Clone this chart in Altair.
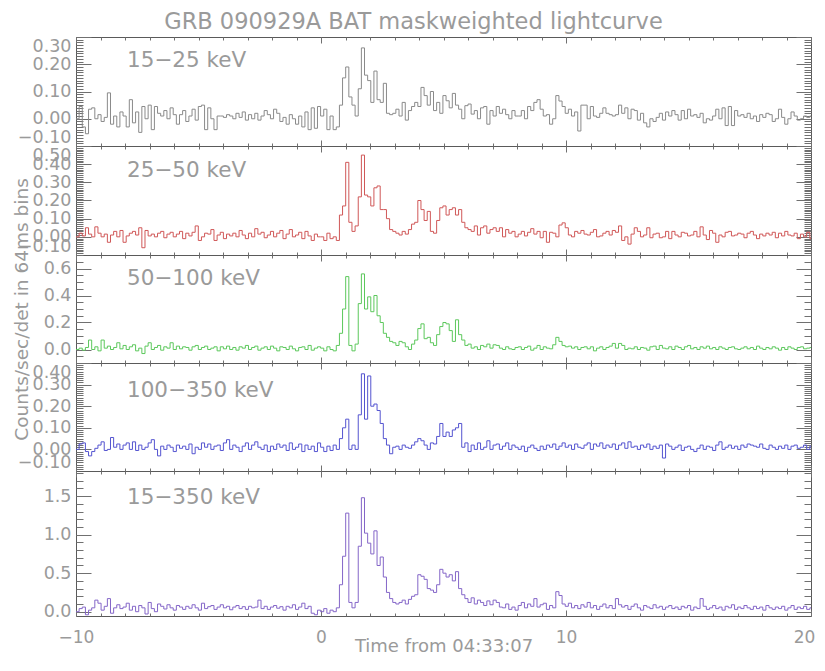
import altair as alt
import numpy as np
import pandas as pd

# ---- time binning of the light curves (first bin start, bin width in s) ----
T0 = -10.0
BIN = 0.128

# ---- count rates per bin (counts/sec/det) ----
BAND_15_25 = [
    0.0, 0.045, -0.03, -0.055, 0.035, 0.04, 0.0, 0.015, -0.01, 0.005,
    0.095, -0.02, 0.01, -0.03, 0.025, 0.01, -0.03, 0.07, -0.015, 0.025,
    -0.05, 0.045, 0.0, 0.05, -0.04, 0.045, 0.02, 0.01, 0.03, 0.0,
    0.04, 0.015, -0.02, 0.015, 0.03, -0.01, 0.01, 0.035, -0.005, 0.045,
    0.05, -0.04, 0.04, 0.0, -0.04, 0.01, 0.01, 0.005, 0.015, 0.01,
    0.0, 0.02, 0.005, 0.025, -0.005, 0.015, 0.0, 0.02, -0.005, 0.01,
    0.03, 0.015, 0.0, 0.035, 0.02, -0.01, 0.005, -0.02, 0.015, 0.0,
    -0.02, 0.01, -0.03, 0.025, -0.04, 0.04, -0.035, 0.045,
    0.01, 0.035, -0.04, 0.01, -0.04, -0.03, 0.05, 0.15, 0.19, 0.08,
    0.05, 0.01, 0.11, 0.26, 0.16, 0.14, 0.06, 0.175, 0.07, 0.06,
    0.13, 0.02, 0.015, 0.02, 0.035, 0.01, 0.06, -0.005, 0.03, 0.045,
    0.06, 0.045, 0.115, 0.085, 0.05, 0.10, 0.03, 0.06, 0.02, 0.085,
    0.066, 0.04, 0.093, 0.05, 0.035, 0.0, 0.048, 0.054, 0.017, 0.03,
    0.0, 0.04, 0.045, -0.02, 0.03, 0.01, 0.045, 0.02, 0.035, 0.015,
    0.0, 0.03, 0.01,
    0.01, 0.03, 0.0, 0.045, 0.03, 0.06, 0.07, 0.035, 0.01, 0.015,
    -0.02, 0.0, 0.085, 0.065, 0.045, 0.02, 0.035, 0.01, 0.025, -0.045,
    0.05, 0.05, 0.0, 0.045, 0.01, 0.005, 0.02, 0.04, 0.02, 0.015,
    0.01, 0.015, 0.05, 0.02, 0.04, 0.0, 0.035, 0.03, -0.005, 0.02,
    -0.015, -0.03, 0.0, -0.01, 0.005, 0.02, -0.005, 0.025, 0.01, 0.03,
    0.015, -0.005, 0.03, 0.0, 0.035, 0.01, 0.015, 0.005, 0.02, -0.015,
    0.0, -0.005, 0.01, 0.035, 0.0, 0.04, -0.025, 0.045, -0.025, 0.03,
    0.01, 0.015, 0.005, 0.02, 0.0, 0.01, -0.01, 0.015, 0.005, 0.02,
    0.015, -0.01, 0.0, 0.035, 0.005, -0.02, 0.0, 0.025, 0.01, -0.005,
    0.0, 0.01, 0.005, 0.01,
]

BAND_25_50 = [
    0.0, 0.02, 0.005, 0.05, 0.015, 0.0, 0.055, 0.02, 0.0, 0.015,
    -0.03, 0.01, 0.03, 0.0, 0.035, -0.03, 0.005, 0.02, 0.03, 0.01,
    0.05, -0.06, 0.035, 0.005, 0.015, 0.0, 0.02, 0.03, -0.005, 0.015,
    0.025, 0.0, 0.015, 0.03, -0.01, 0.02, 0.005, 0.025, 0.06, -0.02,
    0.0, 0.02, 0.015, 0.04, -0.02, 0.01, 0.025, -0.01, 0.015, 0.005,
    0.02, 0.0, 0.035, 0.01, -0.01, 0.02, 0.0, 0.045, 0.015, 0.025,
    -0.005, 0.01, 0.03, 0.0, 0.02, 0.035, -0.01, 0.015, 0.04, 0.0,
    0.01, 0.025, -0.01, 0.03, 0.005, -0.02, 0.015, 0.0,
    0.0, -0.02, 0.02, -0.01, 0.0, -0.02, 0.12, 0.17, 0.41, 0.08,
    0.03, 0.06, 0.22, 0.45, 0.23, 0.22, 0.17, 0.27, 0.28, 0.15,
    0.15, 0.10, 0.04, 0.03, 0.02, 0.01, 0.03, 0.015, 0.04, 0.07,
    0.08, 0.20, 0.15, 0.09, 0.14, 0.03, 0.02, 0.09, 0.16, 0.17,
    0.12, 0.15, 0.16, 0.12, 0.15, 0.08, 0.05, 0.04, 0.03, 0.06,
    0.01, 0.05, 0.06, 0.02, 0.04, 0.05, 0.03, 0.05, 0.0, 0.04,
    0.02, 0.03, 0.0,
    0.015, 0.03, 0.005, 0.025, 0.045, 0.015, 0.03, -0.005, 0.03, -0.03,
    0.025, 0.02, 0.0, 0.065, 0.077, 0.05, 0.01, 0.0, 0.03, 0.02,
    0.035, 0.015, 0.01, 0.025, 0.04, 0.0, 0.005, 0.02, 0.03, 0.01,
    0.035, 0.025, 0.06, -0.02, 0.0, -0.04, 0.015, 0.05, 0.03, 0.0,
    0.01, 0.05, -0.005, 0.015, 0.02, -0.005, 0.0, 0.03, -0.01, 0.03,
    0.01, 0.0, 0.025, 0.02, 0.005, 0.01, 0.03, 0.0, 0.055, 0.01,
    -0.015, 0.035, 0.02, -0.03, 0.01, 0.0, 0.025, 0.03, 0.005, 0.01,
    0.02, 0.015, -0.005, 0.02, 0.03, 0.01, -0.01, 0.015, 0.005, 0.02,
    0.01, 0.025, -0.005, 0.02, 0.005, 0.03, 0.01, 0.005, 0.02, -0.01,
    0.015, 0.0, 0.025, -0.01,
]

BAND_50_100 = [
    0.0, 0.01, -0.005, 0.015, 0.07, 0.0, 0.02, -0.01, 0.07, 0.01,
    0.025, 0.0, 0.015, 0.05, 0.005, 0.03, 0.0, 0.02, 0.035, -0.01,
    0.01, -0.03, 0.025, 0.05, 0.0, 0.015, 0.03, -0.005, 0.02, 0.01,
    0.05, 0.0, 0.025, 0.005, 0.02, 0.015, -0.005, 0.02, 0.03, 0.0,
    0.015, 0.025, 0.0, 0.01, 0.02, -0.01, 0.02, 0.005, 0.025, 0.0,
    0.015, -0.005, 0.02, 0.01, 0.03, 0.0, 0.015, 0.025, -0.005, 0.01,
    0.02, 0.0, 0.025, 0.01, -0.01, 0.02, 0.015, 0.0, 0.025, 0.005,
    -0.01, 0.015, 0.02, 0.0, 0.03, -0.005, 0.01, 0.02,
    0.01, -0.01, 0.02, 0.0, -0.01, 0.03, 0.12, 0.30, 0.54, 0.03,
    -0.01, 0.04, 0.34, 0.56, 0.30, 0.39, 0.28, 0.40, 0.25, 0.20,
    0.12, 0.09, 0.06, 0.05, 0.03, 0.06, 0.05, 0.02, 0.0, 0.04,
    0.07, 0.155, 0.19, 0.08, 0.09, 0.05, 0.03, 0.11, 0.17, 0.20,
    0.19, 0.14, 0.06, 0.22, 0.11, 0.07, 0.03, 0.04, 0.01, 0.02,
    0.0, 0.03, 0.02, 0.04, 0.01, 0.035, 0.03, 0.01, 0.0, 0.02,
    0.005, 0.0, 0.015,
    0.02, 0.0, 0.015, 0.025, -0.005, 0.01, 0.03, 0.0, 0.02, 0.01,
    0.005, 0.035, 0.09, 0.06, 0.03, 0.02, 0.025, 0.01, 0.02, 0.0,
    0.015, 0.02, 0.005, 0.02, -0.01, 0.01, 0.02, 0.0, 0.015, 0.025,
    0.045, 0.01, 0.045, 0.03, 0.0, 0.01, 0.005, 0.02, 0.0, 0.015,
    0.01, -0.005, 0.02, 0.025, 0.0, 0.03, 0.01, 0.005, 0.02, 0.0,
    0.025, 0.015, 0.0, 0.02, 0.03, 0.005, 0.015, 0.0, 0.02, 0.01,
    0.025, 0.005, 0.015, 0.0, 0.02, 0.01, 0.0, 0.015, 0.02, 0.005,
    0.0, 0.01, 0.02, 0.005, 0.015, 0.0, 0.025, 0.01, 0.0, 0.015,
    0.005, 0.02, 0.01, -0.005, 0.015, 0.0, 0.02, 0.01, 0.0, 0.015,
    0.02, 0.005, 0.01, 0.015,
]

BAND_100_350 = [
    0.0, 0.025, 0.03, -0.01, -0.03, -0.01, 0.005, 0.02, 0.035, -0.005,
    0.0, 0.055, 0.01, 0.025, 0.0, 0.02, 0.03, 0.0, 0.035, -0.005,
    0.02, 0.0, 0.01, 0.03, 0.045, 0.0, -0.03, 0.015, 0.0, 0.02,
    0.01, -0.01, 0.02, 0.005, 0.015, 0.0, 0.025, -0.02, 0.01, 0.0,
    0.03, 0.01, 0.025, 0.0, 0.015, 0.02, -0.005, 0.03, 0.045, 0.0,
    0.02, 0.01, -0.01, 0.015, 0.03, 0.0, 0.02, 0.035, 0.01, 0.0,
    0.02, -0.01, 0.015, 0.0, 0.025, 0.01, 0.02, -0.005, 0.03, 0.0,
    0.01, 0.025, -0.01, 0.02, 0.0, 0.015, -0.01, 0.03,
    0.01, -0.01, 0.015, -0.005, 0.02, 0.0, 0.05, 0.10, 0.14, 0.0,
    0.02, 0.0, 0.16, 0.35, 0.14, 0.34, 0.20, 0.21, 0.18, 0.12,
    0.05, 0.02, -0.02, 0.01, 0.015, 0.0, 0.02, 0.01, 0.005, 0.02,
    0.035, 0.05, 0.04, 0.02, 0.0, 0.03, 0.025, 0.06, 0.12, 0.06,
    0.08, 0.06, 0.09, 0.10, 0.12, 0.01, 0.03, -0.01, 0.02, 0.0,
    0.03, 0.0, 0.01, 0.04, 0.0, 0.02, 0.025, 0.0, 0.015, 0.03,
    0.0, 0.02, 0.01,
    0.0, 0.015, -0.01, 0.01, 0.02, 0.005, -0.005, 0.015, 0.0, 0.02,
    0.01, 0.025, 0.0, 0.015, 0.03, 0.01, 0.02, 0.0, 0.025, 0.01,
    0.005, 0.02, 0.03, 0.0, 0.025, 0.015, 0.03, 0.005, 0.02, 0.01,
    0.025, 0.0, 0.02, 0.03, 0.005, 0.035, 0.01, 0.015, 0.0, 0.02,
    0.01, 0.025, 0.0, 0.015, 0.005, 0.02, -0.04, 0.025, 0.015, 0.0,
    0.01, 0.02, -0.005, 0.01, 0.015, 0.0, -0.01, 0.005, 0.02, 0.0,
    0.015, 0.01, -0.005, 0.02, 0.035, 0.0, 0.01, 0.02, 0.005, 0.015,
    0.0, 0.02, 0.01, 0.025, 0.02, 0.015, 0.01, 0.025, 0.005, 0.0,
    0.02, 0.01, 0.0, 0.015, 0.005, 0.02, 0.0, 0.015, 0.02, 0.005,
    0.01, 0.02, 0.0, 0.015,
]

BAND_15_350 = [
    0.0, 0.04, 0.06, -0.04, 0.02, 0.05, 0.15, 0.11, 0.02, 0.07,
    0.17, -0.02, 0.05, 0.09, 0.04, 0.06, 0.11, 0.02, 0.07, 0.0,
    0.08, 0.05, -0.03, 0.12, 0.04, 0.0, 0.10, 0.07, 0.035, 0.09,
    0.05, 0.02, 0.08, 0.06, 0.03, 0.07, 0.045, 0.09, 0.05, 0.02,
    0.11, 0.04, 0.065, 0.08, 0.03, 0.06, 0.09, 0.05, 0.07, 0.025,
    0.06, 0.08, 0.04, 0.065, 0.03, 0.07, 0.05, 0.06, 0.15, 0.04,
    0.07, 0.03, 0.06, 0.08, 0.045, 0.065, 0.02, 0.07, 0.05, 0.09,
    0.03, 0.06, 0.11, 0.04, 0.07, -0.02, -0.04, 0.02,
    0.0, 0.04, -0.02, 0.02, 0.0, 0.05, 0.35, 0.72, 1.28, 0.12,
    0.05, 0.12, 0.85, 1.48, 1.02, 0.89, 0.75, 1.05, 0.60, 0.71,
    0.45, 0.25, 0.17, 0.12, 0.10, 0.12, 0.15, 0.10, 0.16, 0.20,
    0.22, 0.48, 0.46, 0.42, 0.30, 0.28, 0.25, 0.35, 0.55, 0.50,
    0.45, 0.48, 0.40, 0.52, 0.30, 0.22, 0.17, 0.12, 0.18, 0.10,
    0.15, 0.12, 0.08, 0.14, 0.09, 0.15, 0.12, 0.06, 0.05, 0.10,
    0.03, 0.06, 0.02,
    0.08, 0.12, 0.05, 0.10, 0.07, 0.17, 0.06, 0.09, 0.11, 0.03,
    0.08, 0.05, 0.26, 0.21, 0.10, 0.07, 0.11, 0.05, 0.08, 0.04,
    0.09, 0.06, 0.12, 0.05, 0.08, 0.03, 0.07, 0.10, 0.05, 0.08,
    0.04, 0.17, 0.09, 0.06, 0.08, 0.03, 0.07, 0.10, 0.05, 0.02,
    0.08, 0.06, 0.04, 0.09, 0.05, 0.07, 0.03, 0.06, 0.08, 0.04,
    0.06, 0.03, 0.07, 0.05, 0.08, 0.02, 0.06, 0.04, 0.17, 0.07,
    0.03, 0.05, 0.08, 0.04, 0.06, 0.02, 0.07, 0.05, 0.09, 0.03,
    0.06, 0.04, 0.08, 0.05, 0.03, 0.07, 0.04, 0.06, 0.02, 0.08,
    0.05, 0.03, 0.06, 0.04, 0.07, 0.02, 0.05, 0.08, 0.03, 0.06,
    0.04, 0.07, 0.03, 0.05,
]

SERIES = [BAND_15_25, BAND_25_50, BAND_50_100, BAND_100_350, BAND_15_350]
BAND_LABELS = ["15\u221225 keV", "25\u221250 keV", "50\u2212100 keV",
               "100\u2212350 keV", "15\u2212350 keV"]
COLORS = ["#8a8a8a", "#d05858", "#5cc85c", "#5454d0", "#8466c8"]
Y_DOMAINS = [(-0.10, 0.30), (-0.10, 0.50), (-0.10, 0.70), (-0.10, 0.40), (-0.056, 1.827)]
Y_MAJOR = [
    [-0.1, 0.0, 0.1, 0.2, 0.3],
    [-0.1, 0.0, 0.1, 0.2, 0.3, 0.4, 0.5],
    [0.0, 0.2, 0.4, 0.6],
    [-0.1, 0.0, 0.1, 0.2, 0.3, 0.4],
    [0.0, 0.5, 1.0, 1.5],
]
Y_MINOR_STEP = [0.01, 0.01, 0.05, 0.01, 0.1]
Y_FORMAT = [".2f", ".2f", ".1f", ".2f", ".1f"]
HEIGHTS = [109, 109, 108, 108, 145]
LABEL_Y = [24, 25, 23.5, 28, 27]
X_MAJOR = [-10, 0, 10, 20]
X_MINOR = list(range(-10, 21))

TITLE = "GRB 090929A BAT maskweighted lightcurve"
X_TITLE = "Time from 04:33:07"
Y_TITLE = "Counts/sec/det in 64ms bins"

FONT = "DejaVu Sans"
TEXT_COLOR = "#9a9a9a"
TICK_COLOR = "#707070"
WIDTH = 735


def minor_values(lo, hi, step):
    start = np.ceil(lo / step - 1e-9) * step
    vals = np.arange(start, hi + step * 1e-6, step)
    return [round(float(v), 4) for v in vals]


def panel(k):
    vals = SERIES[k]
    n = len(vals)
    t = [round(T0 + BIN * i, 4) for i in range(n + 1)]
    v = list(vals) + [vals[-1]]
    df = pd.DataFrame({"t": t, "v": v})
    base = alt.Chart(df)
    xs = alt.Scale(domain=[-10, 20], nice=False, zero=False)
    ys = alt.Scale(domain=list(Y_DOMAINS[k]), nice=False, zero=False)
    last = k == len(SERIES) - 1

    # bottom / left major axes (with labels)
    xb_kw = dict(orient="bottom", values=X_MAJOR, tickSize=6, offset=-6, domain=False,
                 grid=False, tickColor=TICK_COLOR, labels=last, title=None)
    if last:
        xb_kw.update(labelFontSize=17, labelFont=FONT, labelColor=TEXT_COLOR,
                     labelPadding=13, labelFlush=False,
                     labelOffset={"condition": {"test": "datum.value >= 20", "value": -7},
                                  "value": 0},
                     title=X_TITLE, titleFont=FONT, titleFontSize=18,
                     titleFontWeight="normal", titleColor=TEXT_COLOR, titlePadding=-8)
    yl_kw = dict(orient="left", values=Y_MAJOR[k], tickSize=15, offset=-15, domain=False,
                 grid=False, tickColor=TICK_COLOR, format=Y_FORMAT[k], labelFontSize=17.5,
                 labelFont=FONT, labelColor=TEXT_COLOR, labelPadding=5, labelFlush=True,
                 labelFlushOffset=0, labelOverlap=False, title=None)
    if k == 2:
        yl_kw.update(title=Y_TITLE, titleFont=FONT, titleFontSize=18.5,
                     titleFontWeight="normal", titleColor=TEXT_COLOR, titlePadding=12)

    ymin = minor_values(Y_DOMAINS[k][0], Y_DOMAINS[k][1], Y_MINOR_STEP[k])

    def line(x_axis, y_axis, visible):
        return base.mark_line(
            interpolate="step-after", clip=True, strokeWidth=1,
            color=COLORS[k], opacity=1 if visible else 0,
        ).encode(
            x=alt.X("t:Q", scale=xs, axis=x_axis),
            y=alt.Y("v:Q", scale=ys, axis=y_axis),
        )

    def simple_axis(orient, values, size):
        return alt.Axis(orient=orient, values=values, tickSize=size, offset=-size,
                        domain=False, grid=False, labels=False, tickColor=TICK_COLOR,
                        title=None)

    l1 = line(alt.Axis(**xb_kw), alt.Axis(**yl_kw), True)
    l2 = line(simple_axis("bottom", X_MINOR, 3), simple_axis("left", ymin, 7), False)
    l3 = line(simple_axis("top", X_MAJOR, 6), simple_axis("right", Y_MAJOR[k], 15), False)
    l4 = line(simple_axis("top", X_MINOR, 3), simple_axis("right", ymin, 7), False)

    lab = alt.Chart(pd.DataFrame({"label": [BAND_LABELS[k]]})).mark_text(
        align="left", baseline="middle", font=FONT, fontSize=21.5, color=TEXT_COLOR
    ).encode(text="label:N", x=alt.value(51), y=alt.value(LABEL_Y[k]))

    return alt.layer(l2, l3, l4, l1, lab).resolve_axis(
        x="independent", y="independent"
    ).properties(width=WIDTH, height=HEIGHTS[k])


chart = alt.vconcat(
    *[panel(k) for k in range(len(SERIES))], spacing=0, bounds="flush"
).properties(
    title=alt.TitleParams(TITLE, font=FONT, fontSize=22.5, fontWeight="normal",
                          color=TEXT_COLOR, anchor="middle", offset=3),
    padding={"left": 3, "top": 2, "right": 0, "bottom": 0},
).configure_view(stroke="#5a5a5a", strokeWidth=1)

chart.save("out.html", embed_options={"renderer": "svg", "actions": False})
